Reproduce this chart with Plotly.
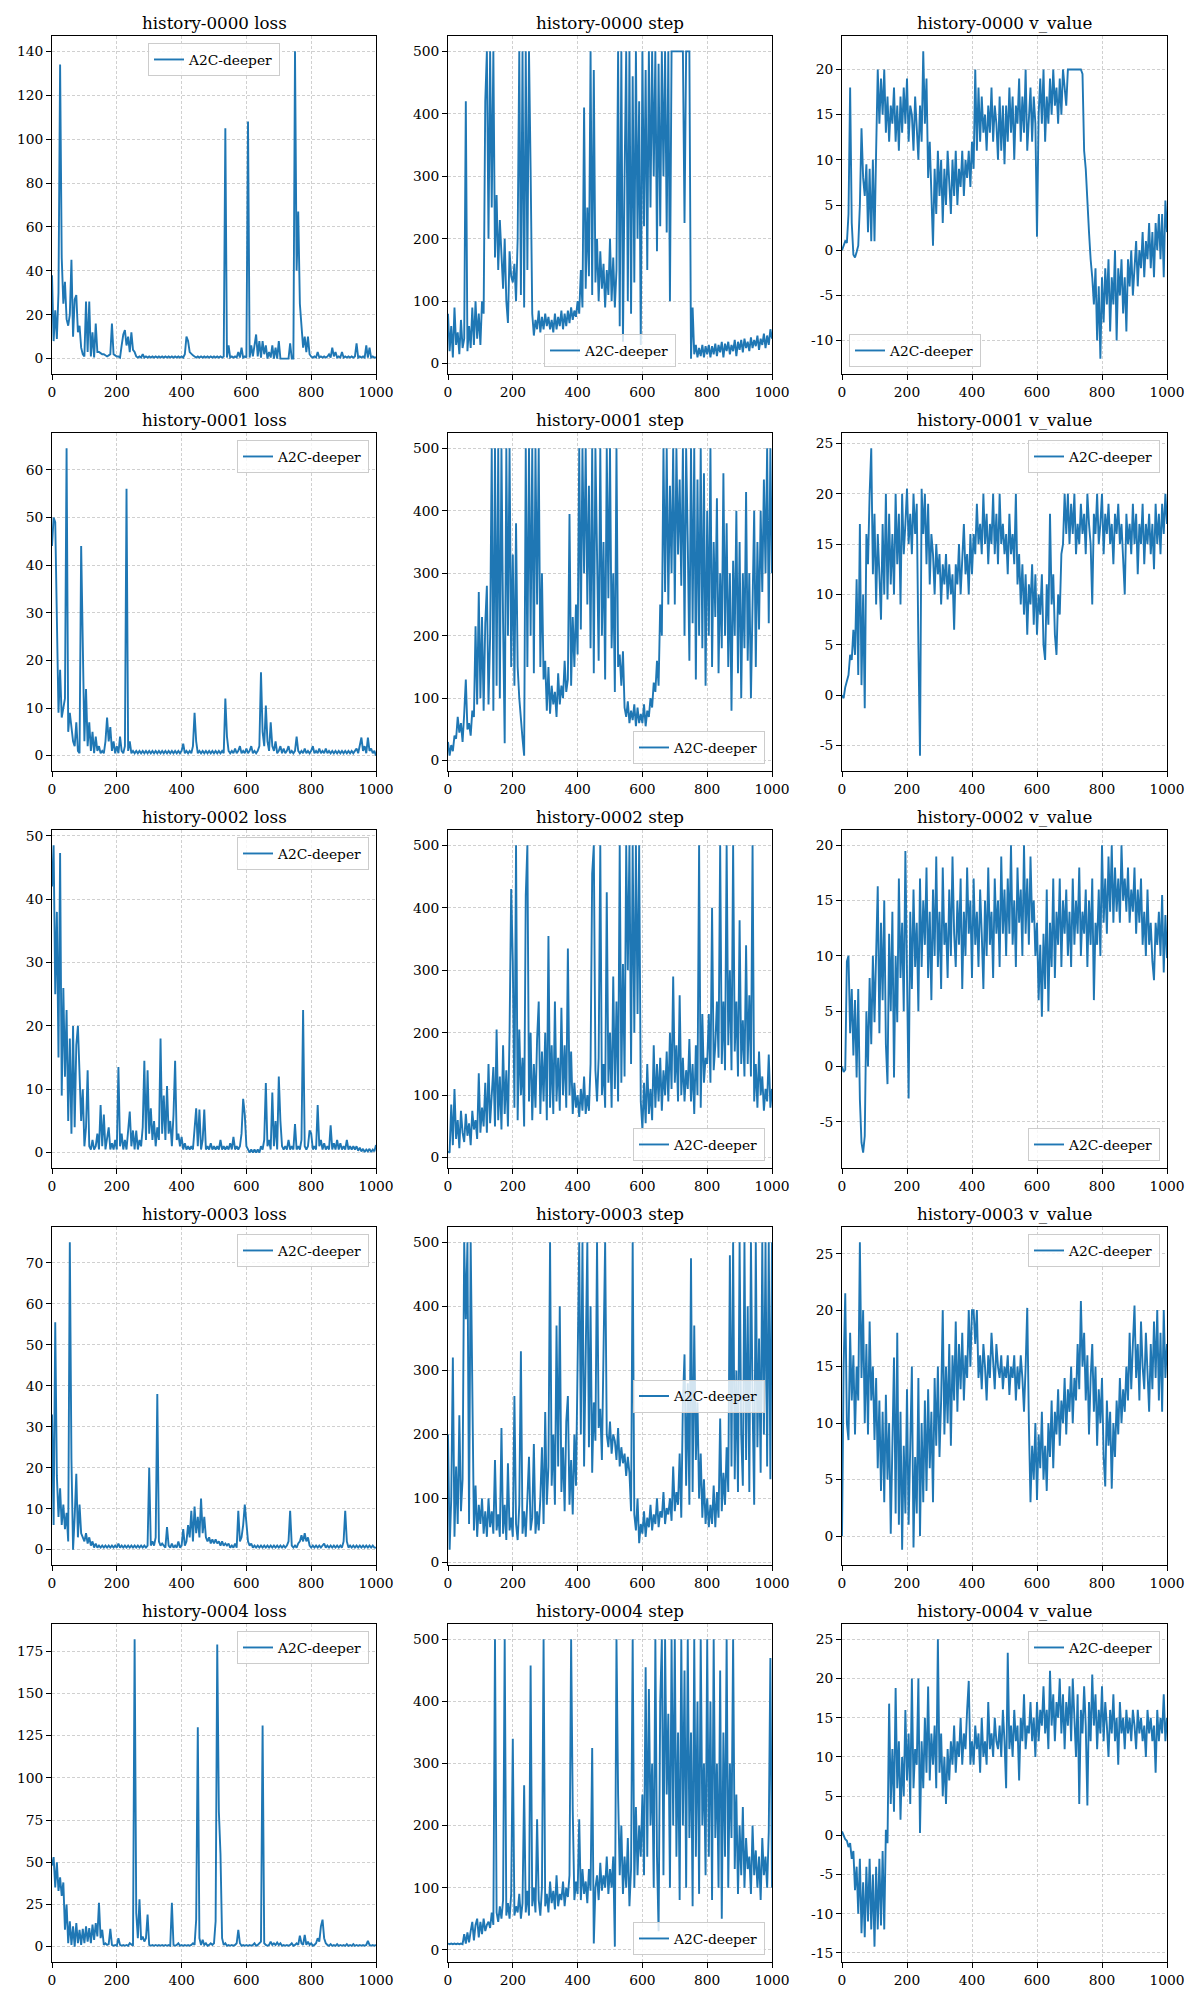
import math
import plotly.graph_objects as go

# ---------------- data (episode index every 5 steps) ----------------
episodes = list(range(0, 1001, 5))

loss_0000 = [
    38, 8, 22, 9, 30, 134, 46, 25, 35, 18, 15, 20, 45, 10, 27, 29, 12, 15, 5, 2,
    1, 26, 3, 26, 1, 12, 0.5, 16, 3, 3, 2.5, 2, 2, 1.5, 1, 1.5, 2, 16, 2, 1.5,
    1, 1, 0.5, 6, 11, 13, 6, 10, 3, 12, 4, 3, 1, 0.5, 1, 0.5, 2, 0.5, 1, 0.5,
    1, 0.5, 1, 0.5, 1, 0.5, 1, 0.5, 1, 0.5, 1, 0.5, 1, 0.5, 1, 0.5, 1, 0.5, 1, 0.5,
    1, 0.5, 2, 10, 8, 3, 2, 1.5, 1, 0.5, 1, 0.5, 1, 0.5, 1, 0.5, 1, 0.5, 1, 0.5,
    1, 0.5, 1, 0.5, 1, 0.5, 1, 105, 0.5, 6, 0.5, 1, 0.5, 1, 0.5, 3, 0.5, 5, 0.5, 1,
    0.5, 108, 0.5, 6, 1, 7, 11, 1, 8, 0.5, 8, 2, 6, 0, 3, 0.5, 6, 0, 5, 0,
    8, 0, 0, 0, 0, 0, 0, 7, 0, 0, 140, 40, 67, 25, 15, 5, 10, 3, 10, 2,
    1, 0.5, 1, 0.5, 3, 0.5, 1, 0.5, 1, 0.5, 1, 2, 0.5, 5, 1, 3, 0.5, 1, 0.5, 3,
    0.5, 1, 0.5, 1, 0.5, 1, 0.5, 1, 7, 0.5, 1, 0.5, 1, 0.5, 6, 0.5, 5, 0.5, 1, 0.5,
    0.5]

step_0000 = [
    80, 20, 60, 10, 90, 30, 50, 15, 70, 25, 40, 420, 20, 60, 25, 90, 30, 100, 40, 80,
    30, 100, 80, 420, 500, 200, 500, 250, 500, 170, 270, 150, 230, 180, 120, 200, 100, 65, 180, 140,
    130, 160, 100, 200, 500, 110, 500, 90, 500, 150, 500, 310, 80, 45, 70, 55, 85, 50, 75, 55,
    80, 60, 75, 55, 70, 50, 80, 55, 75, 60, 85, 55, 80, 60, 85, 65, 90, 70, 85, 75,
    100, 80, 150, 90, 410, 120, 250, 140, 500, 110, 470, 130, 200, 100, 180, 120, 160, 90, 150, 110,
    200, 100, 170, 90, 150, 500, 60, 500, 35, 300, 500, 100, 500, 80, 460, 130, 500, 200, 420, 30,
    500, 220, 470, 150, 500, 250, 500, 300, 500, 180, 480, 220, 500, 300, 500, 210, 500, 100, 500, 500,
    500, 500, 500, 500, 500, 500, 225, 500, 500, 500, 8, 90, 15, 30, 10, 25, 12, 30, 10, 28,
    15, 30, 10, 28, 15, 32, 12, 30, 18, 35, 10, 32, 20, 35, 15, 30, 20, 38, 12, 35,
    22, 38, 18, 40, 25, 35, 20, 42, 25, 38, 28, 45, 22, 40, 30, 48, 25, 45, 30, 55,
    40]

v_value_0000 = [
    0, 0.5, 1, 0.8, 4, 18, 3, -0.5, -0.8, -0.2, 0.5, 5, 13.5, 8, 6, 9.5, 2, 9, 1, 10,
    1, 11, 20, 14, 19, 15, 20, 13, 17, 12, 16, 14, 18, 12, 16, 11, 17, 13, 18, 14,
    19, 12, 16, 15, 11, 17, 13, 10, 16, 12, 22, 14, 19, 8, 12, 5, 0.5, 9, 4, 11,
    6, 10, 3, 9, 5, 11, 7, 4, 10, 6, 11, 5, 9, 7, 11, 6, 10, 8, 11, 7,
    12, 9, 20, 11, 18, 12, 17, 13, 15, 11, 16, 13, 18, 12, 16, 14, 10, 17, 11, 16,
    9.5, 16, 12, 18, 13, 17, 10, 16, 14, 19, 12, 17, 13, 20, 11, 15, 18, 12, 17, 14,
    1.5, 15, 19, 14, 20, 12, 17, 14, 19, 15, 20, 16, 18, 14, 19, 15, 20, 18, 16, 20,
    20, 20, 20, 20, 20, 20, 20, 20, 19.5, 11, 9, 5, 2, -1, -3, -6, -2, -10, -4, -12,
    -3, -8, -2, -6, -1, -9, -3, -6, 0, -10, -2, -5, -1, -7, -3, -9, -1, -4, 0, -5,
    -2, 1, -4, 0, -2, 2, -3, 1, -1, 3, -2, 2, -3, 3, 0, 4, -1, 4, -3, 5.5,
    2]

loss_0001 = [
    44, 50, 49, 26, 9, 18, 8, 10, 12, 64.5, 5, 9, 6, 3, 2, 7, 1, 0.5, 44, 19,
    3, 14, 2, 7, 1, 5, 0.5, 4, 1, 2, 0.5, 1, 0.5, 3, 8, 3, 6, 1, 3, 0.5,
    2, 0.5, 4, 1, 0.5, 2, 56, 1, 3, 0.5, 1, 0.5, 1, 0.5, 1, 0.5, 1, 0.5, 1, 0.5,
    1, 0.5, 1, 0.5, 1, 0.5, 1, 0.5, 1, 0.5, 1, 0.5, 1, 0.5, 1, 0.5, 1, 0.5, 1, 0.5,
    1, 2.5, 0.5, 1, 0.5, 1, 0.5, 2, 9, 3, 0.5, 1, 0.5, 1, 0.5, 1, 0.5, 1, 0.5, 1,
    0.5, 1, 0.5, 1, 0.5, 1, 0.5, 12, 4, 1, 0.5, 1, 0.5, 1.5, 0.5, 1, 2, 0.5, 1, 0.5,
    1.5, 0.5, 1, 2, 0.5, 1, 0.5, 1, 2, 17.5, 5, 2, 10.5, 3, 1, 7, 2, 1, 3, 0.5,
    1, 2, 0.5, 1.5, 0.5, 1, 2, 0.5, 1, 0.5, 1, 4, 1, 0.5, 1, 0.5, 1.5, 0.5, 1, 0.5,
    1, 2, 0.5, 1, 0.5, 1.5, 0.5, 1, 0.5, 1.5, 0.5, 1, 0.5, 1, 0.5, 1, 0.5, 1, 0.5, 1,
    0.5, 1, 0.5, 1, 0.5, 1, 0.5, 1, 1.5, 0.5, 2, 3.8, 1, 2, 0.5, 3.8, 1, 1.5, 0.5, 1,
    0]

step_0001 = [
    30, 8, 25, 15, 40, 35, 70, 45, 60, 30, 75, 130, 50, 60, 40, 80, 70, 215, 90, 270,
    100, 230, 80, 220, 280, 90, 200, 500, 80, 500, 120, 500, 100, 500, 220, 28, 500, 200, 500, 150,
    330, 120, 380, 150, 100, 60, 35, 8, 500, 150, 500, 200, 500, 140, 500, 250, 500, 150, 300, 130,
    160, 80, 150, 75, 120, 90, 110, 70, 140, 90, 120, 100, 160, 110, 130, 395, 120, 230, 150, 250,
    170, 500, 210, 500, 300, 500, 250, 440, 180, 500, 140, 500, 300, 160, 500, 200, 350, 130, 500, 260,
    500, 180, 300, 110, 500, 150, 170, 120, 175, 85, 70, 95, 60, 80, 65, 90, 55, 85, 60, 75,
    60, 90, 55, 80, 70, 100, 85, 125, 110, 160, 120, 250, 200, 500, 270, 500, 250, 440, 300, 500,
    250, 500, 330, 450, 280, 500, 200, 500, 350, 160, 500, 220, 500, 130, 450, 200, 500, 180, 460, 120,
    400, 200, 500, 150, 350, 230, 420, 140, 300, 180, 460, 200, 380, 150, 300, 80, 320, 200, 400, 140,
    350, 100, 300, 180, 430, 160, 300, 100, 250, 400, 150, 350, 210, 400, 270, 450, 300, 500, 220, 500,
    300]

v_value_0001 = [
    0, -0.3, 0.8, 1.5, 2, 4, 3.5, 6.5, 4, 11.5, 2, 17, 1, 10, -1.3, 16, 13, 20, 24.5, 12,
    18, 9, 16, 12, 7.5, 17, 10, 20, 9.5, 18, 11, 16, 10, 20, 13, 18, 9, 20, 14, 17,
    20.5, 15, 18, 14, 20, 16, 19, 5, -6, 20.5, 16, 20, 13, 19, 11, 16, 14, 10, 15, 12,
    14, 9, 13, 11, 14, 9.5, 13, 10, 12, 6.5, 13, 11, 15, 10, 14, 17, 12, 14, 10, 16,
    12, 16, 14, 19, 15, 17, 14, 20, 15, 18, 13, 17, 15, 20, 14, 18, 13, 20, 15, 17,
    14, 16, 12, 18, 14, 16, 13, 20, 11, 14, 9, 13, 8, 12, 6, 11, 9, 13, 7, 12,
    6, 10, 8, 12, 5, 3.5, 11, 7, 18, 9, 12, 6, 4, 10, 8, 14, 15, 20, 16, 20,
    15, 19, 16, 20, 14, 17, 15, 19, 16, 18, 14, 20, 17, 15, 9, 18, 16, 20, 15, 17,
    20, 14, 18, 16, 19, 15, 17, 13, 18, 16, 19, 15, 17, 14, 10, 18, 15, 17, 14, 19,
    15, 18, 12, 17, 15, 19, 13, 17, 15, 18, 14, 17, 12.5, 19, 15, 18, 14, 19, 16, 20,
    17]

loss_0002 = [
    42, 48.5, 25, 38, 15, 47.3, 9, 26, 12, 22.5, 5, 18, 3, 20, 4, 17, 20, 13, 5, 10,
    1, 4, 13, 1, 0.5, 2, 0.5, 1, 3, 0.5, 7.5, 1, 6, 0.5, 2, 4, 0.5, 1.5, 0.5, 2,
    0.5, 13.5, 1, 3, 0.5, 2, 0.5, 3, 6.5, 1, 3.5, 0.5, 3.5, 0.5, 2, 1, 4, 14.5, 2, 13,
    3, 7, 2, 5, 1, 4, 2, 18, 3, 9, 2, 10.5, 3, 5, 1, 6, 14.5, 2, 3, 1,
    2.5, 0.5, 1.5, 0.5, 1, 0.5, 1, 0.5, 4, 7, 1, 6.8, 0.5, 2, 6.8, 0.5, 1, 0.5, 1.5, 0.5,
    1, 0.5, 1, 0.5, 2, 0.5, 1, 0.5, 1, 0.5, 1.5, 0.5, 2.5, 0.5, 1, 0.5, 1, 3, 8.5, 6,
    1, 0.5, 0, 0.5, 0, 0.5, 0, 0.5, 0, 1, 0.5, 2, 11, 1, 2, 0.5, 9.5, 1, 5, 0.5,
    12, 5, 1, 0.5, 1, 0.5, 2, 0.5, 1, 0.5, 4.5, 0.5, 1, 0.5, 2, 22.5, 1, 0.5, 1, 3.5,
    3, 0.5, 1, 0.5, 7.5, 1, 2, 0.5, 1.5, 0.5, 1, 0.5, 4.3, 0.5, 1.5, 0.5, 2, 0.5, 1.5, 0.5,
    1, 0.5, 2, 0.5, 1, 0.5, 1, 0.5, 1, 0.3, 0.8, 0.2, 0.6, 0.1, 0.5, 0.2, 0.6, 0.1, 0.5, 0.2,
    1.2]

step_0002 = [
    10, 8, 85, 20, 110, 30, 60, 15, 75, 40, 25, 70, 35, 55, 20, 75, 45, 60, 30, 135,
    40, 80, 50, 120, 40, 150, 55, 110, 145, 50, 205, 60, 130, 45, 180, 70, 140, 50, 200, 430,
    315, 80, 500, 60, 205, 100, 160, 50, 420, 500, 90, 200, 60, 150, 80, 190, 250, 70, 170, 90,
    200, 60, 355, 80, 180, 70, 250, 90, 160, 75, 240, 100, 180, 80, 335, 100, 170, 70, 120, 80,
    100, 65, 110, 75, 130, 70, 100, 75, 150, 455, 500, 140, 90, 160, 500, 100, 150, 80, 425, 120,
    200, 80, 290, 110, 250, 90, 500, 120, 310, 130, 500, 300, 500, 150, 500, 200, 500, 230, 500, 90,
    45, 120, 55, 150, 70, 110, 60, 180, 80, 150, 90, 160, 75, 140, 100, 170, 90, 200, 110, 290,
    120, 180, 90, 260, 100, 160, 90, 140, 110, 190, 90, 150, 70, 180, 100, 500, 80, 230, 120, 160,
    150, 230, 120, 400, 140, 180, 250, 160, 500, 150, 250, 140, 500, 180, 300, 140, 500, 170, 250, 130,
    380, 150, 220, 130, 340, 150, 260, 130, 500, 90, 150, 80, 170, 100, 130, 75, 110, 90, 165, 80,
    110]

v_value_0002 = [
    0, -0.5, -0.3, 9.5, 10, 3, 7, 1, 6, -1, 7, -3, -6.9, -7.8, -6.3, 5, 0, 8, 2, 10,
    4, 12, 16.3, 3, 13, 6, 15, 2, -1.6, 12, 5, 14, -1, 10, 4, 17, 8, 13, 5, 19.5,
    10, -2.9, 14, 7, 16, 9, 13, 5, 17, 9, 15, 11, 18, 8, 14, 6, 16, 10, 19, 9,
    14, 7, 18, 11, 13, 8, 16, 10, 19, 12, 9, 15, 11, 17, 7, 14, 10, 18, 12, 15,
    8, 17, 11, 14, 9, 16, 12, 7, 15, 10, 18, 11, 14, 8, 17, 12, 15, 9, 19, 12,
    16, 10, 17, 12, 20, 11, 15, 9, 18, 13, 16, 10, 20, 12, 17, 11, 19, 13, 15, 10,
    13, 6, 11, 4.5, 12, 7, 16, 5, 13, 9, 17, 8, 14, 11, 17, 9, 15, 12, 16, 10,
    14, 9, 17, 11, 15, 12, 18, 10, 14, 12, 16, 9, 15, 11, 17, 6, 13, 11, 16, 10,
    20, 13, 17, 12, 19, 14, 20, 13, 18, 14, 17, 13, 20, 15, 17, 14, 18, 13, 16, 14,
    18, 12, 16, 13, 17, 11, 14, 10, 16, 11, 13, 9.5, 7.8, 13, 11, 14, 10, 15.5, 8.5, 13.7,
    9.8]

loss_0003 = [
    33, 6, 55.5, 18, 8, 15, 6, 11, 5, 9, 2, 75, 22, 0, 8, 18.5, 3, 11, 4, 3,
    2, 4, 1.5, 3, 1, 2, 0.5, 1.5, 0.5, 1, 0.5, 1, 0.5, 1, 0.5, 1, 0.5, 1, 0.5, 1,
    0.5, 1.5, 0.5, 1, 0.5, 1, 0.5, 1, 0.5, 1, 0.5, 1, 0.5, 1, 0.5, 1, 0.5, 1, 0.5, 1,
    20, 1, 2, 1, 3, 38, 2, 1, 1.5, 1, 0.5, 5.5, 1, 0.5, 1.5, 0.5, 1, 0.5, 2, 0.5,
    1, 5, 1, 2, 6, 3, 9.5, 2, 10.5, 4, 8, 3, 12.5, 4, 8, 3, 2, 3, 1.5, 2.5,
    1.5, 2.5, 1.5, 2, 1, 2, 1, 1.5, 1, 1.5, 0.5, 1, 0.5, 1.5, 0.5, 9.5, 2, 3, 6, 11,
    6, 2, 1, 1.5, 0.5, 1, 0.5, 1, 0.5, 1, 0.5, 1, 0.5, 1, 0.5, 1, 0.5, 1, 0.5, 1,
    0.5, 1, 0.5, 1, 0.5, 1, 2, 9.5, 1, 0.5, 1, 0.5, 1.5, 2, 3.5, 2, 4, 2, 3, 1,
    0.5, 1, 0.5, 1, 0.5, 1, 0.5, 1, 1.5, 0.5, 1, 0.5, 1, 0.5, 1, 0.5, 1, 0.5, 1, 0.5,
    2, 9.5, 2, 0.5, 1, 0.5, 1, 0.5, 1, 0.5, 1, 0.5, 1, 0.5, 1, 0.5, 1, 0.5, 1, 0.5,
    0.5]

step_0003 = [
    200, 20, 100, 320, 40, 150, 60, 230, 80, 130, 500, 380, 500, 60, 500, 300, 50, 120, 40, 90,
    60, 100, 45, 80, 40, 100, 55, 80, 45, 160, 50, 75, 40, 210, 45, 90, 35, 155, 50, 70,
    40, 260, 60, 35, 90, 330, 45, 80, 40, 100, 165, 50, 70, 185, 45, 80, 50, 100, 180, 60,
    235, 90, 150, 500, 120, 200, 90, 370, 150, 400, 110, 180, 80, 220, 260, 90, 160, 75, 200, 120,
    300, 500, 200, 500, 150, 300, 500, 180, 400, 140, 250, 190, 500, 210, 240, 160, 300, 500, 200, 180,
    220, 170, 200, 190, 160, 210, 150, 180, 155, 170, 135, 165, 140, 80, 500, 75, 50, 100, 30, 60,
    45, 80, 40, 70, 55, 90, 50, 75, 60, 100, 55, 80, 70, 110, 60, 85, 75, 100, 65, 150,
    80, 110, 90, 170, 70, 250, 325, 120, 280, 90, 475, 110, 370, 160, 250, 100, 170, 70, 130, 60,
    100, 55, 90, 60, 120, 55, 110, 70, 225, 80, 140, 90, 180, 110, 480, 150, 500, 130, 300, 110,
    500, 200, 120, 500, 160, 400, 110, 500, 250, 90, 500, 180, 350, 140, 500, 200, 500, 150, 500, 130,
    500]

v_value_0003 = [
    0, 15, 21.5, 10, 8.5, 18, 12, 16, 9, 15, 12, 26, 14, 20, 10, 17, 9, 19, 12, 15,
    8.5, 14, 6, 12, 4, 11, 3, 12.5, 5, 10, 0.2, 9, 15.8, 2, 18, 1, 11, -1.2, 8, 2,
    13, 1, 9, 15, -1, 7, 2, 14, 0, 10, 3, 12, 4, 13, 6, 11, 3, 14, 8, 15,
    7, 12, 20, 9, 15, 10, 17, 8, 16, 12, 19, 11, 17, 13, 18, 12, 16, 14, 20, 15,
    20, 20, 17, 20, 14, 16, 13, 17, 15, 12, 16, 14, 18, 15, 13, 17, 15, 14, 16, 13,
    15, 14, 16, 12.5, 15, 14, 16, 12, 15, 13, 16, 14, 11, 15, 20.2, 10, 3, 8, 5, 10,
    3.2, 9, 6, 11, 5, 8, 4, 10, 7, 12, 6, 11, 9, 13, 8, 12, 10, 14, 9, 13,
    11, 15, 10, 14, 12, 17, 13, 20.8, 15, 18, 12, 16, 9, 14, 17, 11, 15, 8, 13, 10,
    14, 7, 4.4, 12, 8, 11, 4.2, 10, 7, 12, 9, 14, 10, 13, 11, 15, 12, 18, 13, 17,
    20.4, 14, 17, 12, 19, 15, 13, 18, 14, 11, 17, 13, 19, 14, 20, 12, 18, 11, 20, 14,
    17]

loss_0004 = [
    48, 53, 35, 50, 33, 41, 30, 38, 10, 25, 2, 15, 1, 12, 0, 14, 2, 10, 1, 10.5,
    2, 12, 3, 11, 2, 13, 4, 14, 6, 26, 5, 10, 1, 2, 1, 1.5, 10.5, 1, 0.5, 1,
    0.5, 5, 1, 0.5, 1, 0.5, 1, 0.5, 2, 1, 0.5, 182, 20, 5, 28, 4, 6, 3, 5, 19,
    1, 0.5, 1, 0.5, 1, 0.5, 1, 0.5, 1, 0.5, 1, 0.5, 1, 0.5, 26, 1, 0.5, 1, 2, 0.5,
    1, 0.5, 1, 0.5, 1, 0.5, 1, 2, 1, 16, 130, 5, 1, 4, 1, 2, 0.5, 1, 2, 1,
    2, 15, 179, 80, 55, 5, 1, 2, 0.5, 1, 0.5, 1, 0.5, 1, 2, 10, 2, 0.5, 1, 0.5,
    1, 0.5, 1, 0.5, 1, 2, 0.5, 1, 2, 3, 131, 2, 1, 0.5, 1, 3, 1, 2, 1, 2.5,
    1, 2, 0.5, 1, 0.5, 1, 0.5, 1, 2, 0.5, 1, 2, 1, 6.5, 2, 1, 7, 1, 3, 1,
    2, 0.5, 1, 2, 5, 3, 12, 16, 5, 2, 1, 0.5, 1.5, 0.5, 1, 0.5, 1.5, 0.5, 1, 0.5,
    1, 0.5, 1.5, 0.5, 1, 0.5, 1.5, 0.5, 1, 0.5, 1, 0.5, 1, 0.5, 1, 3.5, 1, 0.5, 1, 0.5,
    1]

step_0004 = [
    10, 9, 10, 9, 10, 9, 10, 9, 10, 9, 25, 10, 28, 12, 30, 45, 15, 40, 50, 20,
    45, 25, 50, 30, 40, 45, 35, 60, 40, 500, 60, 45, 70, 50, 80, 500, 55, 75, 50, 90,
    340, 55, 70, 60, 90, 50, 75, 265, 60, 95, 55, 458, 70, 100, 60, 210, 80, 55, 100, 500,
    70, 90, 60, 110, 75, 95, 65, 120, 70, 90, 80, 110, 70, 100, 85, 120, 500, 225, 80, 110,
    90, 210, 80, 130, 90, 110, 75, 130, 95, 325, 10, 100, 120, 80, 140, 95, 120, 100, 150, 90,
    130, 100, 150, 5, 500, 250, 120, 200, 90, 150, 100, 180, 70, 130, 500, 100, 230, 120, 200, 150,
    250, 120, 455, 150, 420, 200, 300, 100, 500, 150, 30, 400, 500, 120, 500, 250, 380, 100, 500, 200,
    500, 150, 350, 80, 500, 200, 450, 100, 500, 180, 350, 70, 500, 150, 400, 90, 500, 200, 300, 120,
    500, 150, 400, 80, 500, 180, 300, 100, 450, 50, 350, 150, 500, 100, 300, 180, 500, 130, 250, 90,
    200, 120, 230, 100, 180, 130, 150, 90, 200, 120, 160, 100, 150, 80, 180, 120, 150, 100, 190, 470,
    100]

v_value_0004 = [
    0.5, 0, -0.5, -0.7, -1.5, -1, -3, -2, -7, -4, -10, -3, -12.5, -6, -13, -4, -11, -3, -12, -5,
    -14.2, -4, -12, -3, -11.5, -2, -12, 0.7, -1, 16.8, 4, 11, 3, 18.8, 6, 12, 2, 10, 5, 16,
    7, 13, 4, 20, 6, 11, 9, 20, 0.3, 12, 6, 15, 8, 19, 7, 13, 9, 14, 6, 25,
    8, 13, 5, 10, 4, 11, 7, 12, 9, 14, 8, 12, 10, 15, 9, 13, 11, 16, 19.7, 9,
    12, 9, 14, 11, 13, 8, 15, 10, 12, 9, 17, 11, 13, 10, 15, 12, 11, 14, 10, 16,
    12, 6, 23.3, 11, 14, 10, 16, 12, 14, 7, 15, 12, 18, 11, 14, 13, 17, 12, 15, 10,
    17, 12, 16, 14, 19, 13, 16, 11, 21, 14, 18, 12, 17, 15, 20, 13, 18, 11, 17, 14,
    19, 12, 20, 15, 10, 18, 4, 16, 13, 19, 14, 3.8, 17, 12, 20.5, 14, 18, 11, 16, 13,
    19, 12, 17, 14, 10, 16, 13, 18, 12, 15, 9, 17, 13, 15, 11, 16, 13, 15, 12, 16,
    14, 11, 16, 13, 15, 12, 14, 10, 16, 13, 15, 12, 14, 8, 16, 12, 15, 13, 18, 12,
    15]

panel_titles = [
    "history-0000 loss", "history-0000 step", "history-0000 v_value",
    "history-0001 loss", "history-0001 step", "history-0001 v_value",
    "history-0002 loss", "history-0002 step", "history-0002 v_value",
    "history-0003 loss", "history-0003 step", "history-0003 v_value",
    "history-0004 loss", "history-0004 step", "history-0004 v_value",
]
panel_series = [
    loss_0000, step_0000, v_value_0000,
    loss_0001, step_0001, v_value_0001,
    loss_0002, step_0002, v_value_0002,
    loss_0003, step_0003, v_value_0003,
    loss_0004, step_0004, v_value_0004,
]
y_tick_steps = [20, 100, 5, 10, 100, 5, 10, 100, 5, 10, 100, 5, 25, 100, 5]
legend_locs = [
    "upper center", "lower center", "lower left",
    "upper right", "lower right", "upper right",
    "upper right", "lower right", "lower right",
    "upper right", "center right", "upper right",
    "upper right", "lower right", "upper right",
]
series_name = "A2C-deeper"
x_tick_values = [0, 200, 400, 600, 800, 1000]

bad = [(t, len(s)) for t, s in zip(panel_titles, panel_series) if len(s) != len(episodes)]
if bad:
    raise SystemExit("length mismatch: %s" % bad)

# ---------------- layout geometry (pixels) ----------------
W, H = 1200, 2000
col_px = [(52, 376), (448, 772), (842, 1167)]
row_px = [(36, 374), (433, 771), (830, 1168), (1227, 1565), (1624, 1962)]
FONT = "DejaVu Serif"
BLUE = "#1f77b4"
GRID = "rgba(176,176,176,0.6)"
PAD = 7
TICK_SIZE = 13.8
TITLE_SIZE = 16.7


def fmt(v):
    return "%g" % v  # plain hyphen-minus like the reference


fig = go.Figure()
layout = dict(
    width=W, height=H, autosize=False,
    margin=dict(l=0, r=0, t=0, b=0, pad=0),
    paper_bgcolor="white", plot_bgcolor="white",
    font=dict(family=FONT, size=TICK_SIZE, color="black"),
    showlegend=True,
    annotations=[],
    template="none",
)

for k in range(15):
    r, c = divmod(k, 3)
    n = k + 1
    sx = "" if n == 1 else str(n)
    x0, x1 = col_px[c]
    y0, y1 = row_px[r]
    vals = panel_series[k]
    lname = "legend" if n == 1 else "legend%d" % n

    fig.add_trace(go.Scatter(
        x=episodes, y=vals, mode="lines", name=series_name,
        line=dict(color=BLUE, width=1.9),
        xaxis="x" + sx, yaxis="y" + sx, legend=lname, showlegend=True,
    ))

    lo, hi = min(vals), max(vals)
    pad = 0.05 * (hi - lo)
    yr = [lo - pad, hi + pad]
    d = y_tick_steps[k]
    t = math.ceil(yr[0] / d) * d
    yt = []
    while t <= yr[1] + 1e-9:
        yt.append(t)
        t += d

    common = dict(
        showline=True, mirror=True, linecolor="black", linewidth=1,
        ticks="outside", ticklen=5, tickwidth=1, tickcolor="black",
        showgrid=True, gridcolor=GRID, gridwidth=0.8, griddash="3px,2px",
        zeroline=False, automargin=False,
        tickfont=dict(family=FONT, size=TICK_SIZE, color="black"),
    )
    layout["xaxis" + sx] = dict(
        domain=[x0 / W, x1 / W], anchor="y" + sx, range=[0, 1000],
        tickvals=x_tick_values, ticktext=[fmt(v) for v in x_tick_values],
        **common)
    layout["yaxis" + sx] = dict(
        domain=[1 - y1 / H, 1 - y0 / H], anchor="x" + sx, range=yr,
        tickvals=yt, ticktext=[fmt(v) for v in yt],
        **common)

    layout["annotations"].append(dict(
        text=panel_titles[k], xref="paper", yref="paper",
        x=(x0 + x1) / 2 / W, y=1 - (y0 - 1) / H,
        xanchor="center", yanchor="bottom", showarrow=False,
        font=dict(family=FONT, size=TITLE_SIZE, color="black"),
    ))

    loc = legend_locs[k]
    if "right" in loc:
        lx, xa = (x1 - PAD) / W, "right"
    elif "left" in loc:
        lx, xa = (x0 + PAD) / W, "left"
    else:
        lx, xa = (x0 + x1) / 2 / W, "center"
    if loc.startswith("upper"):
        ly, ya = 1 - (y0 + PAD) / H, "top"
    elif loc.startswith("lower"):
        ly, ya = 1 - (y1 - PAD) / H, "bottom"
    else:
        ly, ya = 1 - (y0 + y1) / 2 / H, "middle"
    layout[lname] = dict(
        x=lx, y=ly, xanchor=xa, yanchor=ya, xref="paper", yref="paper",
        bgcolor="rgba(255,255,255,0.8)", bordercolor="#cccccc", borderwidth=1,
        font=dict(family=FONT, size=TICK_SIZE, color="black"),
        itemwidth=30, tracegroupgap=0,
    )

fig.update_layout(**layout)
fig.write_html(
    "out.html",
    config={"displayModeBar": False},
    post_script="document.body.style.margin='0px';document.body.style.padding='0px';",
)
